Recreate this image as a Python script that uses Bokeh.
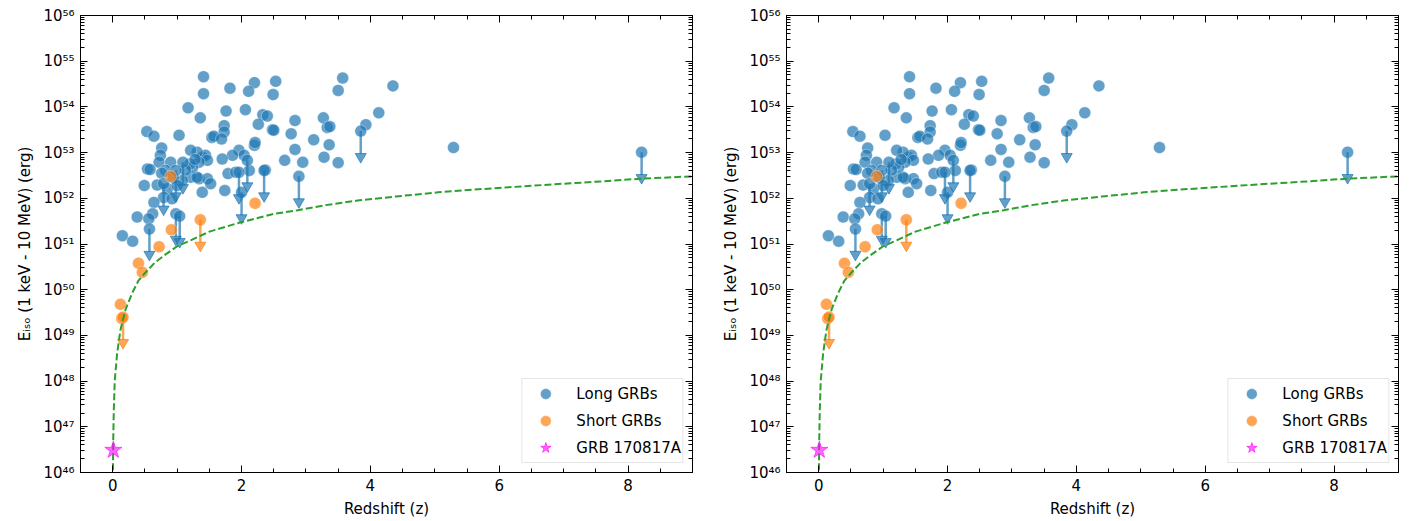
import numpy as np
from bokeh.plotting import figure
from bokeh.models import (FixedTicker, LinearAxis, LogAxis, Range1d, Legend,
                          LegendItem, CustomJSTickFormatter)
from bokeh.layouts import row
from bokeh.embed import file_html
from bokeh.resources import INLINE

# Long GRBs with measured energy (redshift, log10 Eiso/erg)
long_z = [1.41, 1.41, 1.82, 2.20, 2.53, 2.11, 2.49, 3.57, 3.50, 4.35,
          1.17, 1.36, 1.76, 2.06, 2.33, 2.40, 2.26, 2.83, 3.27, 3.33,
          3.37, 4.13, 3.93, 1.73, 1.73, 1.54, 1.57, 1.69, 2.48, 2.50,
          2.77, 3.12, 3.36, 2.83, 3.28, 3.50, 2.67, 2.95, 2.37, 2.20,
          2.21, 1.96, 2.04, 1.86, 1.70, 1.39, 1.44, 1.47, 1.34, 1.31,
          1.79, 1.91, 2.12, 1.74, 1.39, 1.34, 1.47, 1.52, 1.21, 1.31,
          5.29, 0.53, 0.64, 1.03, 0.76, 0.74, 1.21, 0.72, 0.90, 0.54,
          0.58, 0.82, 1.24, 1.20, 1.28, 0.49, 0.69, 0.85, 1.08, 0.79,
          0.92, 0.64, 0.62, 0.38, 0.56, 0.15, 0.31, 0.76, 0.94, 1.13,
          1.00]
long_logE = [54.66, 54.29, 54.41, 54.53, 54.56, 54.34, 54.27, 54.63, 54.36, 54.46,
             53.98, 53.76, 53.91, 53.94, 53.83, 53.80, 53.62, 53.70, 53.76, 53.55,
             53.57, 53.87, 53.61, 53.59, 53.45, 53.33, 53.36, 53.30, 53.50, 53.49,
             53.41, 53.28, 53.17, 53.07, 52.90, 52.78, 52.83, 52.79, 52.62, 53.16,
             53.22, 53.05, 52.94, 52.94, 52.86, 52.90, 52.94, 52.83, 52.79, 53.01,
             52.54, 52.57, 52.61, 52.17, 52.13, 52.43, 52.43, 52.32, 52.46, 52.46,
             53.11, 53.46, 53.36, 53.38, 53.10, 52.94, 53.05, 52.79, 52.79, 52.64,
             52.63, 52.61, 52.68, 52.75, 52.85, 52.28, 52.29, 52.21, 52.39, 52.02,
             51.99, 51.91, 51.66, 51.59, 51.55, 51.18, 51.06, 52.55, 52.45, 52.62,
             52.28]

# Long GRBs with upper limits only
long_ul_z = [3.85, 2.89, 2.35, 2.09, 1.96, 2.00, 1.09, 0.79, 0.98, 0.57, 0.98, 1.04, 8.21]
long_ul_logE = [53.47, 52.48, 52.61, 52.83, 52.57, 52.13, 52.79, 52.32, 52.61, 51.33,
                51.66, 51.61, 53.01]

# Short GRBs
short_z = [0.12, 0.14, 0.40, 0.46, 0.72, 0.91, 0.90, 2.21]
short_logE = [49.68, 49.37, 50.58, 50.38, 50.94, 51.31, 52.48, 51.89]
short_ul_z = [0.16, 1.36]
short_ul_logE = [49.40, 51.53]

# GRB 170817A
gw_z = [0.0098]
gw_logE = [46.49]

# detection threshold curve
lim_z = [0.004, 0.008, 0.016, 0.031, 0.068, 0.12, 0.20, 0.30, 0.40, 0.53,
         0.66, 0.79, 1.0, 1.21, 1.5, 2.0, 2.5, 2.87, 3.3, 3.8,
         4.4, 5.05, 5.6, 6.24, 7.0, 7.6, 8.21, 9.0]
lim_logE = [46.05, 46.70, 47.31, 48.00, 48.60, 49.12, 49.57, 49.92, 50.20, 50.41,
            50.60, 50.74, 50.95, 51.08, 51.27, 51.48, 51.66, 51.74, 51.85, 51.95,
            52.04, 52.13, 52.19, 52.25, 52.32, 52.37, 52.43, 52.48]

x_major = [0, 2, 4, 6, 8]
y_major_exp = list(range(46, 57))

BLUE = "#1f77b4"
ORANGE = "#ff7f0e"
FONT = "DejaVu Sans"

sup_fmt = CustomJSTickFormatter(code="""
const sup = {'0':'\u2070','1':'\u00b9','2':'\u00b2','3':'\u00b3','4':'\u2074',
             '5':'\u2075','6':'\u2076','7':'\u2077','8':'\u2078','9':'\u2079'};
const e = Math.round(Math.log10(tick));
return '10' + String(e).split('').map(c => sup[c]).join('');
""")
blank_fmt = CustomJSTickFormatter(code="return '';")


def tickers():
    xt = FixedTicker(ticks=x_major,
                     minor_ticks=[v / 2 for v in range(1, 18) if v % 4 != 0])
    yt = FixedTicker(ticks=[10.0 ** k for k in y_major_exp],
                     minor_ticks=[m * 10.0 ** k for k in y_major_exp[:-1] for m in range(2, 10)])
    return xt, yt


def style_axis(ax):
    ax.major_tick_in = 7
    ax.major_tick_out = 0
    ax.minor_tick_in = 4
    ax.minor_tick_out = 0
    ax.axis_line_color = "black"
    ax.major_tick_line_color = "black"
    ax.minor_tick_line_color = "black"
    ax.major_label_text_font = FONT
    ax.major_label_text_font_size = "15px"
    ax.major_label_text_color = "black"
    ax.axis_label_text_font = FONT
    ax.axis_label_text_font_size = "15px"
    ax.axis_label_text_font_style = "normal"
    ax.axis_label_text_color = "black"


def make_panel(left_border, right_border):
    p = figure(frame_width=612, frame_height=457,
               x_range=Range1d(-0.5, 9), y_range=Range1d(1e46, 1e56),
               y_axis_type="log", output_backend="svg", toolbar_location=None,
               min_border_left=left_border, min_border_right=right_border,
               min_border_top=15, min_border_bottom=46)
    p.xgrid.visible = False
    p.ygrid.visible = False
    p.outline_line_color = "black"
    p.outline_line_alpha = 1

    xt, yt = tickers()
    p.xaxis.ticker = xt
    p.yaxis.ticker = yt
    p.yaxis.formatter = sup_fmt
    p.xaxis.axis_label = "Redshift (z)"
    p.yaxis.axis_label = "E\u1d62\u209b\u2092 (1 keV - 10 MeV) (erg)"
    p.xaxis.major_label_standoff = 6
    p.yaxis.major_label_standoff = 6
    p.xaxis.axis_label_standoff = 6
    p.yaxis.axis_label_standoff = 6

    xt2, yt2 = tickers()
    top = LinearAxis(ticker=xt2, formatter=blank_fmt,
                     major_label_text_font_size="0px", major_label_standoff=0)
    right = LogAxis(ticker=yt2, formatter=blank_fmt,
                    major_label_text_font_size="0px", major_label_standoff=0)
    p.add_layout(top, "above")
    p.add_layout(right, "right")
    for ax in p.axis:
        style_axis(ax)
    top.major_label_text_font_size = "0px"
    right.major_label_text_font_size = "0px"

    lE = 10.0 ** np.array(long_logE)
    r_long = p.scatter(long_z, lE, marker="circle", size=12, fill_color=BLUE,
                       fill_alpha=0.7, line_color="white", line_alpha=0.35, line_width=1)

    uE = np.array(long_ul_logE)
    p.scatter(long_ul_z, 10.0 ** uE, marker="circle", size=12, fill_color=BLUE,
              fill_alpha=0.7, line_color="white", line_alpha=0.35, line_width=1)
    p.segment(long_ul_z, 10.0 ** uE, long_ul_z, 10.0 ** (uE - 0.5),
              line_color=BLUE, line_alpha=0.7, line_width=2.5)
    p.scatter(long_ul_z, 10.0 ** (uE - 0.56), marker="inverted_triangle", size=11,
              fill_color=BLUE, fill_alpha=0.7, line_color=BLUE, line_alpha=0.7)

    sE = 10.0 ** np.array(short_logE)
    r_short = p.scatter(short_z, sE, marker="circle", size=12, fill_color=ORANGE,
                        fill_alpha=0.7, line_color="white", line_alpha=0.35, line_width=1)
    suE = np.array(short_ul_logE)
    p.scatter(short_ul_z, 10.0 ** suE, marker="circle", size=12, fill_color=ORANGE,
              fill_alpha=0.7, line_color="white", line_alpha=0.35, line_width=1)
    p.segment(short_ul_z, 10.0 ** suE, short_ul_z, 10.0 ** (suE - 0.5),
              line_color=ORANGE, line_alpha=0.7, line_width=2.5)
    p.scatter(short_ul_z, 10.0 ** (suE - 0.56), marker="inverted_triangle", size=11,
              fill_color=ORANGE, fill_alpha=0.7, line_color=ORANGE, line_alpha=0.7)

    p.line(lim_z, 10.0 ** np.array(lim_logE), line_color="#2ca02c", line_width=2,
           line_dash="7 3")

    r_gw = p.scatter(gw_z, 10.0 ** np.array(gw_logE), marker="star", size=18,
                     fill_color="#ff00ff", fill_alpha=0.6, line_color="#ff00ff",
                     line_alpha=0.6)

    legend = Legend(items=[LegendItem(label="Long GRBs", renderers=[r_long]),
                           LegendItem(label="Short GRBs", renderers=[r_short]),
                           LegendItem(label="GRB 170817A", renderers=[r_gw])],
                    location="bottom_right")
    legend.label_text_font = FONT
    legend.label_text_font_size = "15px"
    legend.label_text_color = "black"
    legend.glyph_width = 44
    legend.glyph_height = 27
    legend.spacing = 0
    legend.padding = 1
    legend.label_standoff = 9
    legend.margin = 9
    legend.border_line_color = "#cccccc"
    legend.border_line_width = 1
    legend.background_fill_alpha = 0.8
    p.add_layout(legend)
    return p


p1 = make_panel(80, 22)
p2 = make_panel(72, 3)
p = row(p1, p2)

open("out.html", "w").write(file_html(p, INLINE))
